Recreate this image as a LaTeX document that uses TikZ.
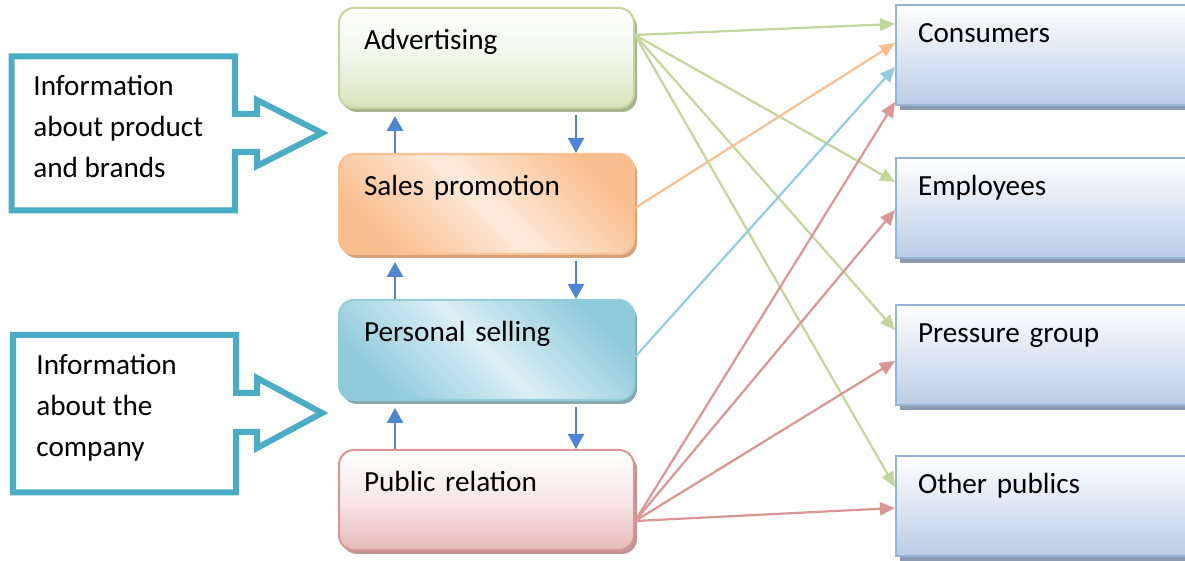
\documentclass[tikz,border=0pt]{standalone}
\usepackage{fontspec}
\setmainfont{Carlito}
\usetikzlibrary{arrows.meta,shadows,calc}
\definecolor{callc}{HTML}{4BACC6}
\definecolor{advb}{HTML}{C3D69B}
\definecolor{advf}{HTML}{D7E4BD}
\definecolor{advs}{HTML}{A7B38C}
\definecolor{salb}{HTML}{FAC090}
\definecolor{salf}{HTML}{F9BE8E}
\definecolor{sall}{HTML}{FDEBDD}
\definecolor{sals}{HTML}{D3A37D}
\definecolor{perb}{HTML}{92CDDC}
\definecolor{perf}{HTML}{8FCADA}
\definecolor{perl}{HTML}{DCEFF4}
\definecolor{pers}{HTML}{86A9B3}
\definecolor{pubb}{HTML}{D99694}
\definecolor{pubf}{HTML}{E6B9B8}
\definecolor{pubs}{HTML}{BE9594}
\definecolor{rbord}{HTML}{95B3D7}
\definecolor{rfill}{HTML}{B9CDE5}
\definecolor{rshad}{HTML}{8C9BB0}
\definecolor{vblue}{HTML}{4F86D0}
\definecolor{lgreen}{HTML}{C3D69B}
\definecolor{lorange}{HTML}{FAC090}
\definecolor{lblue}{HTML}{93CDDD}
\definecolor{lred}{HTML}{D99694}
\tikzset{
  midbox/.style={rounded corners=7.5pt, line width=1pt, anchor=north west,
    minimum width=147.5pt, text width=122.5pt, inner xsep=12.5pt, inner ysep=0pt,
    text height=21pt, text depth=29pt, align=left},
  rbox/.style={draw=rbord, line width=1pt, anchor=north west, top color=white,
    bottom color=rfill, minimum width=205pt, text width=183pt, inner xsep=11pt,
    inner ysep=0pt, text height=19pt, text depth=31pt, align=left,
    general shadow={fill=rshad, shadow xshift=2pt, shadow yshift=-2.5pt}},
  callout/.style={draw=callc, line width=3pt, line join=miter},
  calltext/.style={anchor=base west, align=left, inner sep=0pt},
  conn/.style={line width=1.1pt, -{Triangle[length=7.5pt,width=6.5pt]}},
  gline/.style={conn, draw=lgreen, fill=lgreen},
  oline/.style={conn, draw=lorange, fill=lorange},
  bline/.style={conn, draw=lblue, fill=lblue},
  rline/.style={conn, draw=lred, fill=lred},
  varrow/.style={draw=vblue, line width=1.2pt, -{Triangle[length=7.5pt,width=8pt]}}
}
\begin{document}
\begin{tikzpicture}[x=0.5pt, y=-0.5pt, font=\fontsize{14.6}{20.5}\selectfont]
\useasboundingbox (0,0) rectangle (1185,561);
\clip (0,0) rectangle (1185,561);

% callouts
\draw[callout] (11.5,56.5) -- (235,56.5) -- (235,114) -- (257,114) -- (257,100)
  -- (322,133) -- (257,166) -- (257,152) -- (235,152) -- (235,210.5)
  -- (11.5,210.5) -- cycle;
\node[calltext] (t1) at (33,178) {Information\\about product\\and brands};
\draw[callout] (13,335) -- (236,335) -- (236,393) -- (257,393) -- (257,378)
  -- (322,413) -- (257,448) -- (257,432) -- (236,432) -- (236,492.5)
  -- (13,492.5) -- cycle;
\node[calltext] (t2) at (36,456.5) {Information\\about the\\company};

% middle boxes
\node[midbox, draw=advb, top color=white, bottom color=advf, middle color=advf!35!white,
  general shadow={fill=advs, shadow xshift=1.5pt, shadow yshift=-2pt}]
  (adv) at (338,7) {Advertising};
\node[midbox, draw=salb, shading=axis, top color=salf, bottom color=salf, middle color=sall,
  shading angle=-45,
  general shadow={fill=sals, shadow xshift=1.5pt, shadow yshift=-2pt}]
  (sal) at (338,153) {Sales promotion};
\node[midbox, draw=perb, shading=axis, top color=perf, bottom color=perf, middle color=perl,
  shading angle=-45,
  general shadow={fill=pers, shadow xshift=1.5pt, shadow yshift=-2pt}]
  (per) at (338,299) {Personal selling};
\node[midbox, draw=pubb, top color=white, bottom color=pubf, middle color=pubf!35!white,
  general shadow={fill=pubs, shadow xshift=1.5pt, shadow yshift=-2pt}]
  (pub) at (338,449) {Public relation};

% right boxes
\node[rbox] (cons) at (895,4) {Consumers};
\node[rbox] (emp) at (895,157) {Employees};
\node[rbox] (pres) at (895,304) {Pressure group};
\node[rbox] (oth) at (895,455) {Other publics};

% vertical arrows
\coordinate (ux) at (395,0);
\coordinate (dx) at (576,0);
\draw[varrow] (sal.north -| ux) -- ($(adv.south -| ux)+(0,7)$);
\draw[varrow] ($(adv.south -| dx)+(0,6)$) -- (sal.north -| dx);
\draw[varrow] (per.north -| ux) -- ($(sal.south -| ux)+(0,7)$);
\draw[varrow] ($(sal.south -| dx)+(0,6)$) -- (per.north -| dx);
\draw[varrow] (pub.north -| ux) -- ($(per.south -| ux)+(0,7)$);
\draw[varrow] ($(per.south -| dx)+(0,6)$) -- (pub.north -| dx);

% connector start and end points
\coordinate (advout) at ($(adv.north east)+(0,28)$);
\coordinate (salout) at ($(sal.north east)+(0,55)$);
\coordinate (perout) at ($(per.north east)+(0,58)$);
\coordinate (pubout) at ($(pub.north east)+(0,72)$);
\coordinate (cons-g) at ($(cons.north west)+(0,20)$);
\coordinate (cons-o) at ($(cons.north west)+(0,39)$);
\coordinate (cons-b) at ($(cons.north west)+(0,63)$);
\coordinate (cons-r) at ($(cons.north west)+(0,98)$);
\coordinate (emp-g) at ($(emp.north west)+(0,25)$);
\coordinate (emp-r) at ($(emp.north west)+(0,53)$);
\coordinate (pres-g) at ($(pres.north west)+(0,26)$);
\coordinate (pres-r) at ($(pres.north west)+(0,57)$);
\coordinate (oth-g) at ($(oth.north west)+(0,32)$);
\coordinate (oth-r) at ($(oth.north west)+(0,53)$);

\draw[gline] (advout) -- (cons-g);
\draw[gline] (advout) -- (emp-g);
\draw[gline] (advout) -- (pres-g);
\draw[gline] (advout) -- (oth-g);
\draw[oline] (salout) -- (cons-o);
\draw[bline] (perout) -- (cons-b);
\draw[rline] (pubout) -- (cons-r);
\draw[rline] (pubout) -- (emp-r);
\draw[rline] (pubout) -- (pres-r);
\draw[rline] (pubout) -- (oth-r);
\end{tikzpicture}
\end{document}
